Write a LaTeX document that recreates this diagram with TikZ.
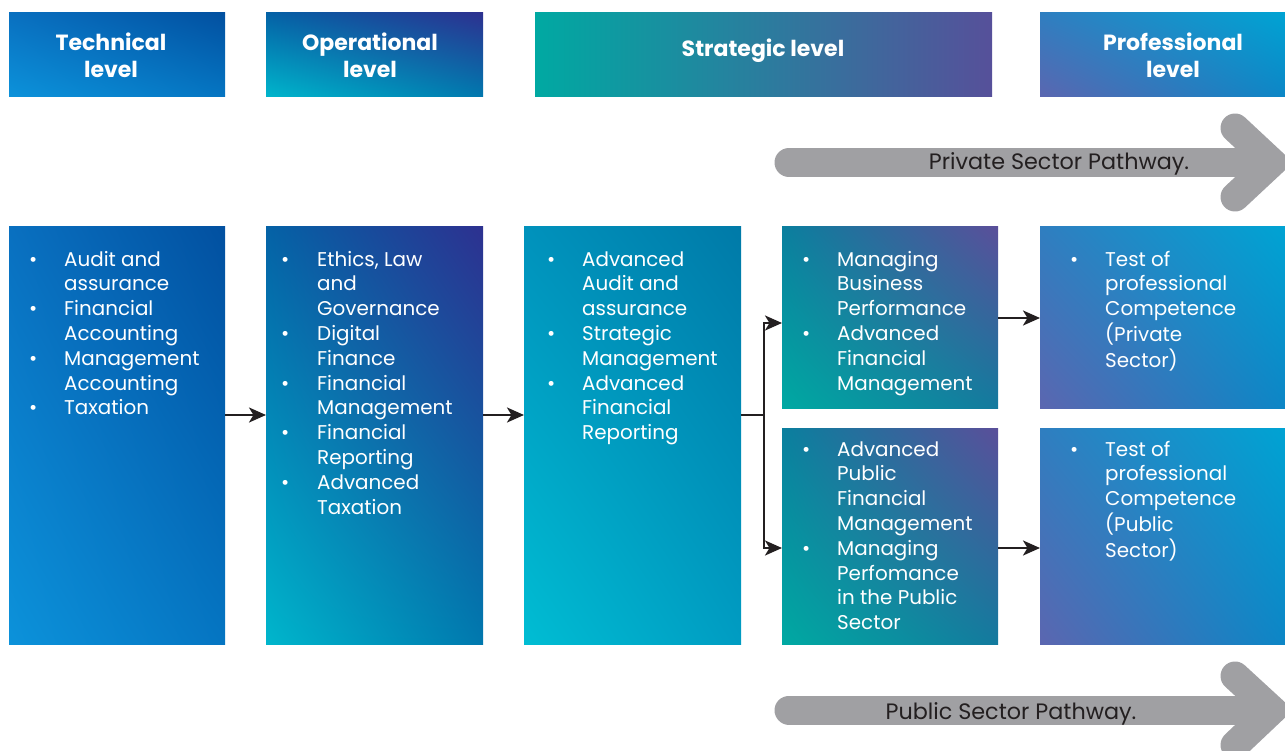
\documentclass[tikz,border=0pt]{standalone}
\usepackage{fontspec}
\setmainfont{Poppins}
\usetikzlibrary{arrows.meta,shadings}
\definecolor{arrowgray}{HTML}{A0A0A3}
\definecolor{pathtext}{HTML}{231F20}
\definecolor{connclr}{HTML}{231F20}
\definecolor{tLL}{HTML}{0C92DA}\definecolor{tUR}{HTML}{0250A0}\definecolor{tUL}{HTML}{0970C0}\definecolor{tLR}{HTML}{0575C2}
\definecolor{oLL}{HTML}{00B6CC}\definecolor{oUR}{HTML}{2D3190}\definecolor{oUL}{HTML}{0462A6}\definecolor{oLR}{HTML}{0078AE}
\definecolor{sLL}{HTML}{00BDD3}\definecolor{sUR}{HTML}{007AA8}\definecolor{sUL}{HTML}{0092BC}\definecolor{sLR}{HTML}{009CC2}
\definecolor{mLL}{HTML}{00A9A2}\definecolor{mUR}{HTML}{5A4F9A}\definecolor{mUL}{HTML}{0A7F9E}\definecolor{mLR}{HTML}{137A9E}
\definecolor{pLL}{HTML}{5B66B0}\definecolor{pUR}{HTML}{00A3D3}\definecolor{pUL}{HTML}{2F7EC0}\definecolor{pLR}{HTML}{0C86C6}
\definecolor{hsL}{HTML}{00A9A2}\definecolor{hsM}{HTML}{00819F}\definecolor{hsR}{HTML}{56509A}
\newcommand{\lsty}{\fontsize{19.9}{24.8}\selectfont\renewcommand{\arraystretch}{1}}
\newcommand{\bu}{•}
\tikzset{
  box/.style={rectangle, inner sep=0pt, outer sep=0pt, draw=none},
  techgrad/.style={lower left=tLL, upper right=tUR, upper left=tUL, lower right=tLR},
  opgrad/.style={lower left=oLL, upper right=oUR, upper left=oUL, lower right=oLR},
  stratgrad/.style={lower left=sLL, upper right=sUR, upper left=sUL, lower right=sLR},
  midgrad/.style={lower left=mLL, upper right=mUR, upper left=mUL, lower right=mLR},
  profgrad/.style={lower left=pLL, upper right=pUR, upper left=pUL, lower right=pLR},
  head/.style={text=white, font=\fontsize{22}{27}\selectfont\bfseries, align=center},
  listtxt/.style={text=white, anchor=north west, inner sep=0pt, align=left, font=\lsty},
  conn/.style={line width=2.5pt, draw=connclr, -{Stealth[length=17pt, width=15pt, inset=4.5pt]}},
  connplain/.style={line width=2.5pt, draw=connclr},
  pathshaft/.style={line width=29pt, draw=arrowgray, line cap=round},
  pathhead/.style={line width=29pt, draw=arrowgray, line cap=round, miter limit=10},
  pathlabel/.style={text=pathtext, font=\fontsize{22.3}{26}\selectfont, inner sep=0pt}
}
\begin{document}
\begin{tikzpicture}[x=1pt,y=-1pt]
\useasboundingbox (0,0) rectangle (1285,751);
\begin{scope}
\clip (0,0) rectangle (1285,751);
% headers
\shade[techgrad] (9,13) rectangle (225,97);
\node[head] (htech) at (111,55) {Technical\\level};
\shade[opgrad] (266,13) rectangle (483,97);
\node[head] (hop) at (370,55) {Operational\\level};
\shade[left color=hsL, middle color=hsM, right color=hsR] (535,13) rectangle (992,97);
\node[head] (hstrat) at (763,51) {Strategic level};
\shade[profgrad] (1040,13) rectangle (1285,97);
\node[head] (hprof) at (1173,55) {Professional\\level};

% pathway arrows
\draw[pathshaft] (789,162.5) -- (1255,162.5);
\draw[pathhead] (1235,128) -- (1272,162.5) -- (1235,197);
\node[pathlabel] (ppriv) at (1059,164) {Private Sector Pathway.};
\draw[pathshaft] (789,710) -- (1255,710);
\draw[pathhead] (1235,676) -- (1272,710) -- (1235,745);
\node[pathlabel] (ppub) at (1011,714) {Public Sector Pathway.};

% main boxes
\shade[techgrad] (9,227) rectangle (225,644);
\node[box, minimum width=216pt, minimum height=417pt] (btech) at (117,435.5) {};
\shade[opgrad] (266,227) rectangle (483,644);
\node[box, minimum width=217pt, minimum height=417pt] (bop) at (374.5,435.5) {};
\shade[stratgrad] (524,227) rectangle (741,644);
\node[box, minimum width=217pt, minimum height=417pt] (bstrat) at (632.5,435.5) {};
\shade[midgrad] (782,227) rectangle (998,408);
\node[box, minimum width=216pt, minimum height=181pt] (bpriv) at (890,317.5) {};
\shade[midgrad] (782,428) rectangle (998,644);
\node[box, minimum width=216pt, minimum height=216pt] (bpub) at (890,536) {};
\shade[profgrad] (1040,227) rectangle (1285,408);
\node[box, minimum width=245pt, minimum height=181pt] (bprofpriv) at (1162.5,317.5) {};
\shade[profgrad] (1040,428) rectangle (1285,644);
\node[box, minimum width=245pt, minimum height=216pt] (bprofpub) at (1162.5,536) {};

% lists
\node[listtxt] (ltech) at (29,248.6) {\begin{tabular}{@{}p{35pt}@{}l@{}}
\bu & Audit and\\ & assurance\\ \bu & Financial\\ & Accounting\\ \bu & Management\\ & Accounting\\ \bu & Taxation
\end{tabular}};
\node[listtxt] (lop) at (281,248.6) {\begin{tabular}{@{}p{36pt}@{}l@{}}
\bu & Ethics, Law\\ & and\\ & Governance\\ \bu & Digital\\ & Finance\\ \bu & Financial\\ & Management\\ \bu & Financial\\ & Reporting\\ \bu & Advanced\\ & Taxation
\end{tabular}};
\node[listtxt] (lstrat) at (547,248.6) {\begin{tabular}{@{}p{35pt}@{}l@{}}
\bu & Advanced\\ & Audit and\\ & assurance\\ \bu & Strategic\\ & Management\\ \bu & Advanced\\ & Financial\\ & Reporting
\end{tabular}};
\node[listtxt] (lpriv) at (802,248.6) {\begin{tabular}{@{}p{35pt}@{}l@{}}
\bu & Managing\\ & Business\\ & Performance\\ \bu & Advanced\\ & Financial\\ & Management
\end{tabular}};
\node[listtxt] (lpub) at (802,438.6) {\begin{tabular}{@{}p{35pt}@{}l@{}}
\bu & Advanced\\ & Public\\ & Financial\\ & Management\\ \bu & Managing\\ & Perfomance\\ & in the Public\\ & Sector
\end{tabular}};
\node[listtxt] (lprofpriv) at (1070,248.6) {\begin{tabular}{@{}p{35pt}@{}l@{}}
\bu & Test of\\ & professional\\ & Competence\\ & (Private\\ & Sector)
\end{tabular}};
\node[listtxt] (lprofpub) at (1070,438.6) {\begin{tabular}{@{}p{35pt}@{}l@{}}
\bu & Test of\\ & professional\\ & Competence\\ & (Public\\ & Sector)
\end{tabular}};
\end{scope}

% connectors
\coordinate (split) at (764,415);
\draw[conn] (btech.east |- 0,415) -- (bop.west |- 0,415);
\draw[conn] (bop.east |- 0,415) -- (bstrat.west |- 0,415);
\draw[connplain] (bstrat.east |- split) -- (split);
\draw[conn] (split) |- (bpriv.west |- 0,323);
\draw[conn] (split) |- (bpub.west |- 0,548);
\draw[conn] (bpriv.east |- 0,318) -- (bprofpriv.west |- 0,318);
\draw[conn] (bpub.east |- 0,548) -- (bprofpub.west |- 0,548);
\end{tikzpicture}
\end{document}
